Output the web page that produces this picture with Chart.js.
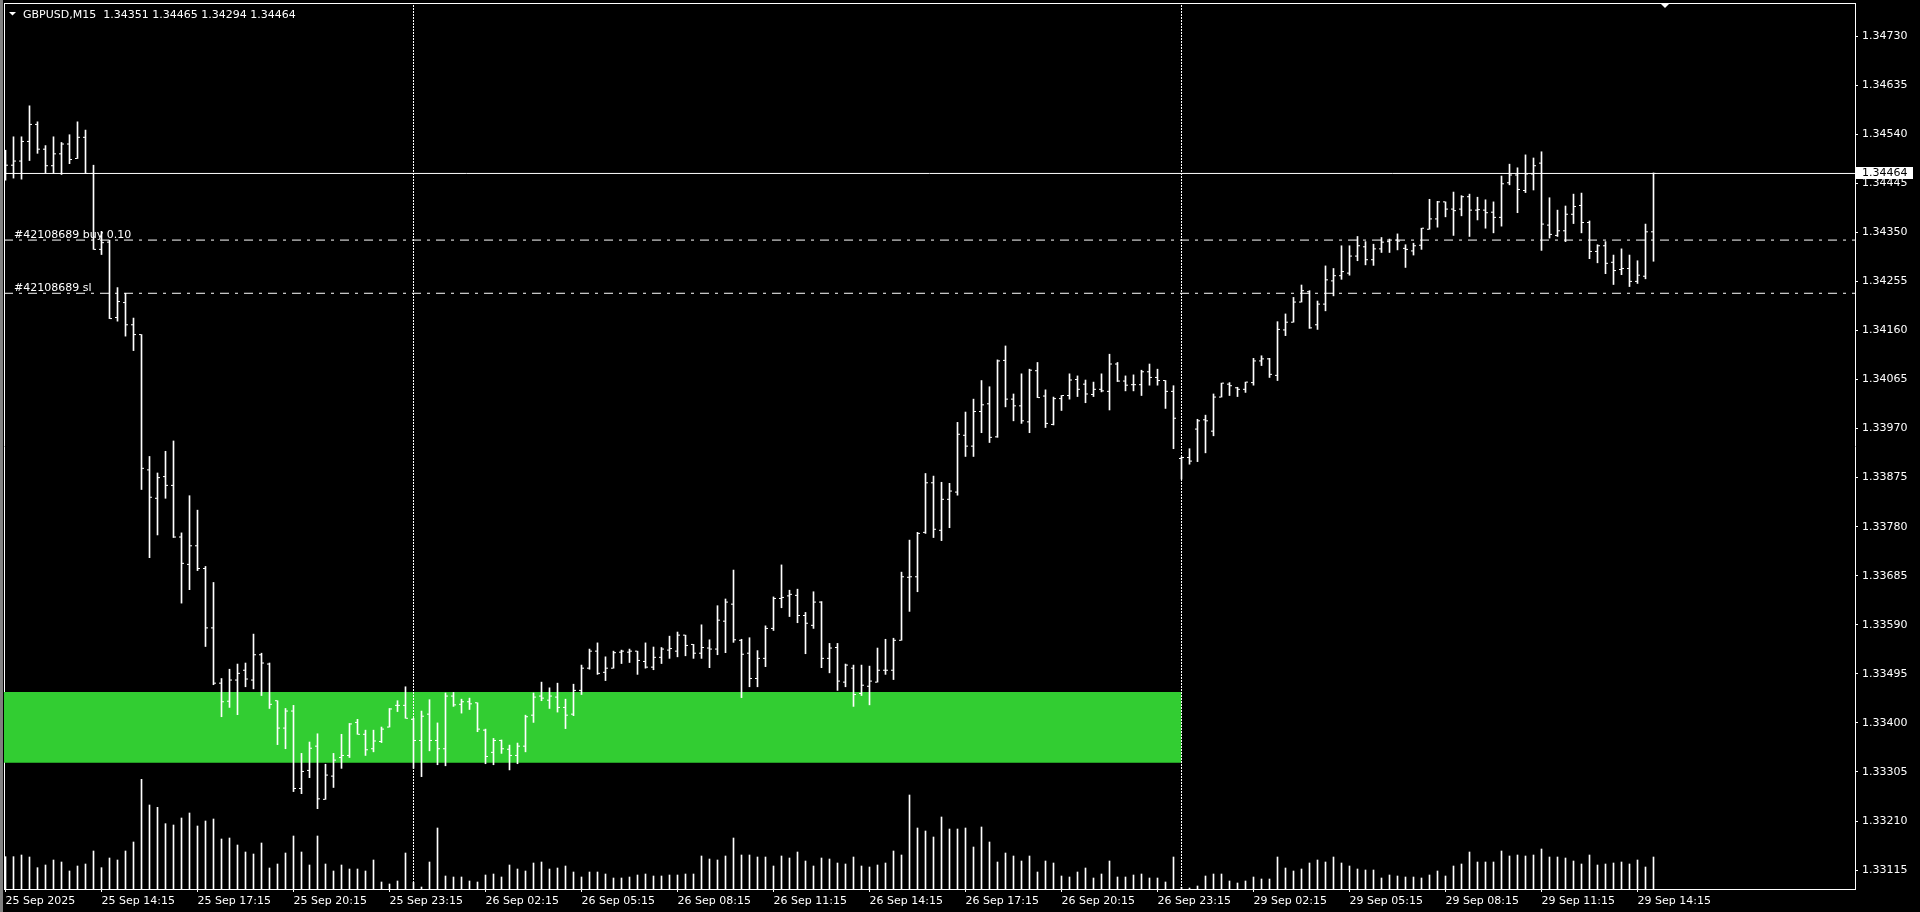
<!DOCTYPE html>
<html>
<head>
<meta charset="utf-8">
<title>GBPUSD,M15</title>
<script src="https://cdn.jsdelivr.net/npm/chart.js@4.4.1/dist/chart.umd.min.js"></script>
<style>
  html, body { margin: 0; padding: 0; background: #000; overflow: hidden; }
  #wrap { position: relative; width: 1920px; height: 912px; }
  #edge { position: absolute; left: 0; top: 0; width: 3px; height: 912px; background: #808080; }
  canvas { display: block; }
</style>
</head>
<body>
<div id="wrap">
  <canvas id="chart" width="1920" height="912"></canvas>
  <div id="edge"></div>
</div>
<script>
// GBPUSD M15, bars from 25 Sep 11:15 to 29 Sep 14:45
const symbolTitle = 'GBPUSD,M15';

const timeLabels = ['25 Sep 2025', '25 Sep 14:15', '25 Sep 17:15', '25 Sep 20:15', '25 Sep 23:15',
  '26 Sep 02:15', '26 Sep 05:15', '26 Sep 08:15', '26 Sep 11:15', '26 Sep 14:15', '26 Sep 17:15',
  '26 Sep 20:15', '26 Sep 23:15', '29 Sep 02:15', '29 Sep 05:15', '29 Sep 08:15', '29 Sep 11:15',
  '29 Sep 14:15'];
const labelEvery = 12; // one time label every 12 bars (3 hours)

const openPrices = [
  1.34464, 1.34480, 1.34488, 1.34526, 1.34559, 1.34511, 1.34479, 1.34502, 1.34521, 1.34493,
  1.34534, 1.34464, 1.34317, 1.34331, 1.34185, 1.34214, 1.34171, 1.34152, 1.33890, 1.33835,
  1.33877, 1.33860, 1.33760, 1.33707, 1.33743, 1.33699, 1.33584, 1.33477, 1.33442, 1.33483,
  1.33502, 1.33483, 1.33532, 1.33514, 1.33443, 1.33390, 1.33423, 1.33273, 1.33308, 1.33355,
  1.33252, 1.33297, 1.33333, 1.33337, 1.33401, 1.33378, 1.33350, 1.33364, 1.33392, 1.33434,
  1.33434, 1.33407, 1.33366, 1.33417, 1.33366, 1.33350, 1.33452, 1.33436, 1.33441, 1.33439,
  1.33386, 1.33343, 1.33366, 1.33349, 1.33337, 1.33355, 1.33415, 1.33452, 1.33444, 1.33450,
  1.33430, 1.33417, 1.33463, 1.33506, 1.33539, 1.33498, 1.33506, 1.33537, 1.33537, 1.33539,
  1.33519, 1.33508, 1.33527, 1.33541, 1.33539, 1.33570, 1.33552, 1.33535, 1.33545, 1.33543,
  1.33597, 1.33630, 1.33560, 1.33535, 1.33486, 1.33525, 1.33583, 1.33641, 1.33646, 1.33647,
  1.33608, 1.33589, 1.33634, 1.33525, 1.33546, 1.33479, 1.33506, 1.33457, 1.33471, 1.33479,
  1.33502, 1.33502, 1.33560, 1.33682, 1.33683, 1.33769, 1.33865, 1.33773, 1.33833, 1.33847,
  1.33957, 1.33936, 1.34003, 1.34018, 1.33954, 1.34102, 1.34027, 1.34014, 1.33983, 1.34082,
  1.34033, 1.33978, 1.34028, 1.34034, 1.34065, 1.34056, 1.34036, 1.34046, 1.34042, 1.34095,
  1.34062, 1.34055, 1.34055, 1.34080, 1.34069, 1.34063, 1.34042, 1.33912, 1.33914, 1.33969,
  1.33987, 1.33965, 1.34031, 1.34056, 1.34049, 1.34046, 1.34059, 1.34101, 1.34105, 1.34073,
  1.34161, 1.34176, 1.34215, 1.34235, 1.34171, 1.34211, 1.34256, 1.34266, 1.34271, 1.34304,
  1.34322, 1.34297, 1.34318, 1.34332, 1.34335, 1.34319, 1.34314, 1.34325, 1.34356, 1.34376,
  1.34409, 1.34395, 1.34395, 1.34419, 1.34393, 1.34393, 1.34389, 1.34379, 1.34446, 1.34461,
  1.34431, 1.34463, 1.34484, 1.34364, 1.34344, 1.34353, 1.34385, 1.34402, 1.34369, 1.34313,
  1.34324, 1.34292, 1.34278, 1.34280, 1.34255, 1.34265, 1.34351
];
const highPrices = [
  1.34509, 1.34535, 1.34535, 1.34595, 1.34564, 1.34518, 1.34535, 1.34524, 1.34539, 1.34564,
  1.34548, 1.34480, 1.34352, 1.34335, 1.34243, 1.34232, 1.34184, 1.34152, 1.33916, 1.33884,
  1.33926, 1.33946, 1.33768, 1.33840, 1.33812, 1.33703, 1.33672, 1.33486, 1.33504, 1.33514,
  1.33516, 1.33572, 1.33535, 1.33516, 1.33443, 1.33428, 1.33434, 1.33341, 1.33363, 1.33379,
  1.33320, 1.33341, 1.33378, 1.33399, 1.33407, 1.33386, 1.33386, 1.33392, 1.33428, 1.33443,
  1.33470, 1.33409, 1.33423, 1.33445, 1.33400, 1.33458, 1.33459, 1.33446, 1.33448, 1.33439,
  1.33388, 1.33370, 1.33367, 1.33357, 1.33361, 1.33415, 1.33458, 1.33479, 1.33468, 1.33477,
  1.33446, 1.33475, 1.33512, 1.33543, 1.33555, 1.33528, 1.33539, 1.33541, 1.33543, 1.33539,
  1.33555, 1.33547, 1.33546, 1.33568, 1.33576, 1.33570, 1.33552, 1.33590, 1.33561, 1.33627,
  1.33640, 1.33696, 1.33562, 1.33565, 1.33540, 1.33588, 1.33644, 1.33706, 1.33657, 1.33659,
  1.33614, 1.33654, 1.33635, 1.33554, 1.33554, 1.33514, 1.33512, 1.33512, 1.33510, 1.33545,
  1.33562, 1.33564, 1.33692, 1.33754, 1.33769, 1.33883, 1.33878, 1.33866, 1.33864, 1.33982,
  1.34002, 1.34027, 1.34063, 1.34051, 1.34103, 1.34130, 1.34037, 1.34076, 1.34085, 1.34098,
  1.34045, 1.34031, 1.34034, 1.34076, 1.34072, 1.34064, 1.34060, 1.34076, 1.34114, 1.34098,
  1.34072, 1.34074, 1.34083, 1.34095, 1.34085, 1.34063, 1.34053, 1.33915, 1.33931, 1.33988,
  1.33996, 1.34037, 1.34058, 1.34059, 1.34050, 1.34060, 1.34106, 1.34111, 1.34106, 1.34177,
  1.34192, 1.34224, 1.34248, 1.34237, 1.34217, 1.34285, 1.34280, 1.34324, 1.34324, 1.34342,
  1.34332, 1.34327, 1.34340, 1.34337, 1.34347, 1.34326, 1.34329, 1.34358, 1.34414, 1.34410,
  1.34409, 1.34428, 1.34421, 1.34424, 1.34418, 1.34413, 1.34409, 1.34459, 1.34482, 1.34475,
  1.34500, 1.34494, 1.34506, 1.34417, 1.34393, 1.34401, 1.34424, 1.34426, 1.34372, 1.34326,
  1.34332, 1.34306, 1.34318, 1.34306, 1.34295, 1.34366, 1.34465
];
const lowPrices = [
  1.34451, 1.34455, 1.34453, 1.34489, 1.34503, 1.34465, 1.34465, 1.34462, 1.34483, 1.34493,
  1.34464, 1.34317, 1.34307, 1.34183, 1.34178, 1.34149, 1.34121, 1.33852, 1.33720, 1.33764,
  1.33835, 1.33759, 1.33632, 1.33658, 1.33695, 1.33548, 1.33474, 1.33412, 1.33430, 1.33416,
  1.33470, 1.33466, 1.33453, 1.33428, 1.33358, 1.33350, 1.33267, 1.33263, 1.33294, 1.33234,
  1.33252, 1.33275, 1.33312, 1.33333, 1.33378, 1.33337, 1.33344, 1.33362, 1.33392, 1.33422,
  1.33409, 1.33312, 1.33296, 1.33346, 1.33319, 1.33317, 1.33432, 1.33419, 1.33426, 1.33383,
  1.33321, 1.33319, 1.33341, 1.33309, 1.33321, 1.33344, 1.33401, 1.33443, 1.33428, 1.33421,
  1.33389, 1.33414, 1.33455, 1.33504, 1.33494, 1.33482, 1.33506, 1.33515, 1.33517, 1.33494,
  1.33506, 1.33503, 1.33515, 1.33525, 1.33528, 1.33530, 1.33525, 1.33525, 1.33507, 1.33532,
  1.33536, 1.33556, 1.33449, 1.33470, 1.33470, 1.33509, 1.33579, 1.33623, 1.33606, 1.33594,
  1.33534, 1.33583, 1.33507, 1.33497, 1.33463, 1.33470, 1.33432, 1.33453, 1.33435, 1.33479,
  1.33494, 1.33484, 1.33560, 1.33616, 1.33654, 1.33767, 1.33759, 1.33753, 1.33778, 1.33841,
  1.33916, 1.33916, 1.33962, 1.33943, 1.33953, 1.34012, 1.33985, 1.33980, 1.33962, 1.34030,
  1.33972, 1.33977, 1.34005, 1.34027, 1.34032, 1.34020, 1.34032, 1.34041, 1.34006, 1.34061,
  1.34043, 1.34043, 1.34034, 1.34054, 1.34054, 1.34009, 1.33931, 1.33872, 1.33901, 1.33906,
  1.33923, 1.33956, 1.34031, 1.34034, 1.34032, 1.34040, 1.34054, 1.34092, 1.34069, 1.34063,
  1.34150, 1.34176, 1.34215, 1.34164, 1.34162, 1.34198, 1.34227, 1.34259, 1.34267, 1.34295,
  1.34287, 1.34286, 1.34311, 1.34311, 1.34316, 1.34282, 1.34306, 1.34317, 1.34356, 1.34360,
  1.34380, 1.34344, 1.34382, 1.34342, 1.34374, 1.34358, 1.34349, 1.34362, 1.34442, 1.34388,
  1.34427, 1.34432, 1.34315, 1.34339, 1.34342, 1.34332, 1.34367, 1.34349, 1.34299, 1.34291,
  1.34270, 1.34249, 1.34268, 1.34245, 1.34251, 1.34260, 1.34294
];
const closePrices = [
  1.34480, 1.34488, 1.34526, 1.34559, 1.34511, 1.34479, 1.34502, 1.34521, 1.34491, 1.34534,
  1.34464, 1.34317, 1.34330, 1.34183, 1.34216, 1.34171, 1.34152, 1.33893, 1.33837, 1.33875,
  1.33860, 1.33760, 1.33709, 1.33743, 1.33699, 1.33584, 1.33477, 1.33441, 1.33483, 1.33496,
  1.33485, 1.33532, 1.33516, 1.33436, 1.33390, 1.33423, 1.33273, 1.33306, 1.33351, 1.33253,
  1.33299, 1.33328, 1.33337, 1.33398, 1.33378, 1.33348, 1.33365, 1.33388, 1.33427, 1.33434,
  1.33409, 1.33366, 1.33413, 1.33366, 1.33350, 1.33452, 1.33435, 1.33441, 1.33437, 1.33388,
  1.33335, 1.33366, 1.33350, 1.33337, 1.33355, 1.33412, 1.33450, 1.33448, 1.33452, 1.33430,
  1.33415, 1.33463, 1.33506, 1.33539, 1.33496, 1.33506, 1.33536, 1.33539, 1.33539, 1.33521,
  1.33508, 1.33527, 1.33543, 1.33544, 1.33570, 1.33550, 1.33535, 1.33546, 1.33543, 1.33599,
  1.33634, 1.33561, 1.33533, 1.33486, 1.33525, 1.33583, 1.33641, 1.33643, 1.33649, 1.33608,
  1.33593, 1.33634, 1.33525, 1.33545, 1.33481, 1.33512, 1.33455, 1.33473, 1.33481, 1.33502,
  1.33502, 1.33560, 1.33683, 1.33683, 1.33767, 1.33865, 1.33775, 1.33833, 1.33849, 1.33959,
  1.33936, 1.34003, 1.34016, 1.33953, 1.34101, 1.34027, 1.34014, 1.33985, 1.34083, 1.34030,
  1.33980, 1.34028, 1.34034, 1.34064, 1.34046, 1.34037, 1.34046, 1.34043, 1.34095, 1.34062,
  1.34054, 1.34055, 1.34080, 1.34069, 1.34063, 1.34042, 1.33990, 1.33914, 1.33907, 1.33985,
  1.33985, 1.34031, 1.34058, 1.34053, 1.34046, 1.34060, 1.34101, 1.34105, 1.34075, 1.34162,
  1.34176, 1.34215, 1.34237, 1.34165, 1.34211, 1.34258, 1.34266, 1.34274, 1.34304, 1.34324,
  1.34297, 1.34318, 1.34331, 1.34335, 1.34333, 1.34317, 1.34324, 1.34358, 1.34376, 1.34409,
  1.34395, 1.34392, 1.34419, 1.34393, 1.34394, 1.34388, 1.34379, 1.34444, 1.34461, 1.34433,
  1.34463, 1.34479, 1.34366, 1.34346, 1.34353, 1.34385, 1.34400, 1.34369, 1.34313, 1.34324,
  1.34290, 1.34276, 1.34280, 1.34255, 1.34267, 1.34351, 1.34464
];
const tickVolumes = [
  970, 970, 1020, 960, 640, 720, 870, 810, 540, 690,
  750, 1140, 640, 930, 870, 1140, 1410, 3290, 2520, 2450,
  1960, 1920, 2130, 2280, 1890, 2040, 2100, 1500, 1530, 1320,
  1110, 1050, 1380, 630, 750, 1080, 1590, 1110, 720, 1590,
  750, 540, 720, 600, 600, 540, 870, 210, 150, 240,
  1080, 200, 60, 810, 1830, 390, 360, 360, 240, 210,
  420, 450, 360, 720, 600, 540, 780, 810, 600, 630,
  690, 510, 360, 510, 510, 450, 330, 330, 360, 420,
  450, 390, 390, 420, 420, 450, 450, 990, 900, 870,
  990, 1530, 1020, 1020, 960, 960, 690, 990, 930, 1110,
  840, 690, 930, 900, 780, 750, 960, 690, 660, 720,
  780, 1140, 1020, 2820, 1830, 1740, 1560, 2160, 1800, 1800,
  1830, 1260, 1860, 1410, 810, 1080, 990, 840, 990, 510,
  840, 780, 390, 360, 510, 630, 330, 450, 840, 360,
  360, 420, 450, 330, 330, 210, 960, 50, 30, 90,
  390, 450, 450, 240, 180, 240, 360, 300, 300, 960,
  630, 540, 600, 780, 870, 810, 960, 780, 690, 600,
  570, 570, 330, 420, 390, 360, 360, 330, 420, 540,
  390, 690, 750, 1110, 810, 810, 810, 1140, 990, 1020,
  990, 1020, 1200, 960, 960, 930, 840, 750, 1020, 720,
  750, 780, 810, 750, 870, 660, 960
];

const priceTicks = [1.34730, 1.34635, 1.34540, 1.34445, 1.34350, 1.34255, 1.34160, 1.34065, 1.33970,
  1.33875, 1.33780, 1.33685, 1.33590, 1.33495, 1.33400, 1.33305, 1.33210, 1.33115];

const bidPrice = 1.34464;
const orderTicket = '#42108689';
const orderLots = 0.10;
const orderOpenPrice = 1.34335;
const orderStopLoss = 1.34232;

const daySeparatorBars = [51, 147]; // 26 Sep 00:00, 29 Sep 00:00

const zoneFromBar = -5;
const zoneToBar = 147;
const zoneHigh = 1.33460;
const zoneLow = 1.33323;

// visible window of the chart
const PX_PER_BAR = 8;
const PLOT_W = 1851;
const PLOT_H = 886;
const X_MIN = -1.5 / PX_PER_BAR;
const X_MAX = X_MIN + PLOT_W / PX_PER_BAR;
const Y_MIN = 1.330784;
const Y_MAX = 1.347941;
const VOL_PER_PX = 30;

const FONT = "'DejaVu Sans', 'Liberation Sans', sans-serif";
Chart.defaults.font.family = FONT;
Chart.defaults.font.size = 11;
Chart.defaults.color = '#ffffff';

const bars = openPrices.map((_, i) => i);
const tickShift = 1.5 / PX_PER_BAR;

function levelLine(label, price, dash) {
  return {
    type: 'line', label: label, order: 3,
    data: [{x: X_MIN, y: price}, {x: X_MAX, y: price}],
    borderColor: '#ffffff', borderWidth: 1, borderDash: dash,
    pointRadius: 0, xAxisID: 'x', yAxisID: 'y'
  };
}

// fixed axis sizes, no automatic label padding
function fixSize(w, h) {
  return s => {
    if (w !== null) s.width = w;
    if (h !== null) s.height = h;
    s.paddingTop = 0; s.paddingBottom = 0; s.paddingLeft = 0; s.paddingRight = 0;
  };
}

const datasets = [
  {
    type: 'scatter', label: 'open', order: 1,
    data: bars.map(i => ({x: i - tickShift, y: openPrices[i]})),
    pointStyle: 'line', pointRadius: 1, pointBorderWidth: 1,
    pointBorderColor: '#ffffff', pointBackgroundColor: '#ffffff',
    showLine: false, xAxisID: 'x', yAxisID: 'y'
  },
  {
    type: 'scatter', label: 'close', order: 1,
    data: bars.map(i => ({x: i + tickShift, y: closePrices[i]})),
    pointStyle: 'line', pointRadius: 1, pointBorderWidth: 1,
    pointBorderColor: '#ffffff', pointBackgroundColor: '#ffffff',
    showLine: false, xAxisID: 'x', yAxisID: 'y'
  },
  {
    type: 'bar', label: 'range', order: 2,
    data: bars.map(i => ({x: i, y: [lowPrices[i], highPrices[i]]})),
    backgroundColor: '#ffffff', borderWidth: 0,
    barThickness: 1, grouped: false, xAxisID: 'x', yAxisID: 'y'
  },
  levelLine('bid', bidPrice, []),
  levelLine('buy', orderOpenPrice, [9, 6, 3, 6]),
  levelLine('sl', orderStopLoss, [9, 6, 3, 6]),
  ...daySeparatorBars.map(b => ({
    type: 'line', label: 'separator', order: 4,
    data: [{x: b, y: Y_MIN}, {x: b, y: Y_MAX}],
    borderColor: '#ffffff', borderWidth: 1, borderDash: [2, 1],
    pointRadius: 0, xAxisID: 'x', yAxisID: 'y'
  })),
  {
    type: 'bar', label: 'volume', order: 5,
    data: bars.map(i => ({x: i, y: tickVolumes[i]})),
    backgroundColor: '#ffffff', borderWidth: 0,
    barThickness: 1, grouped: false, xAxisID: 'x', yAxisID: 'yVol'
  },
  {
    type: 'line', label: 'zone', order: 6,
    data: [{x: zoneFromBar, y: zoneHigh}, {x: zoneToBar, y: zoneHigh}],
    fill: {value: zoneLow}, backgroundColor: '#32cd32',
    borderColor: 'rgba(0,0,0,0)', borderWidth: 1, pointRadius: 0,
    xAxisID: 'x', yAxisID: 'y'
  }
];

// texts MT4 draws over the chart
const terminalText = {
  id: 'terminalText',
  afterDraw(chart) {
    const {ctx, chartArea, scales} = chart;
    const last = openPrices.length - 1;
    ctx.save();
    ctx.font = '11px ' + FONT;
    ctx.fillStyle = '#ffffff';

    ctx.beginPath();
    ctx.moveTo(9, 12); ctx.lineTo(16, 12); ctx.lineTo(12.5, 15.5);
    ctx.closePath(); ctx.fill();
    ctx.textBaseline = 'alphabetic';
    const ohlc = [openPrices[last], highPrices[last], lowPrices[last], closePrices[last]];
    ctx.fillText(symbolTitle + '  ' + ohlc.map(v => v.toFixed(5)).join(' '), 23, 17.5);

    ctx.fillText(orderTicket + ' buy ' + orderLots.toFixed(2), chartArea.left + 10,
      scales.y.getPixelForValue(orderOpenPrice) - 2.5);
    ctx.fillText(orderTicket + ' sl', chartArea.left + 10,
      scales.y.getPixelForValue(orderStopLoss) - 2.5);

    // bid label on the price scale
    const yb = Math.round(scales.y.getPixelForValue(bidPrice));
    ctx.fillRect(chartArea.right + 1, yb - 6, 57, 12);
    ctx.fillStyle = '#000000';
    ctx.textBaseline = 'middle';
    ctx.fillText(bidPrice.toFixed(5), chartArea.right + 7, yb + 0.5);

    // chart shift marker
    ctx.fillStyle = '#ffffff';
    ctx.beginPath();
    ctx.moveTo(1660, chartArea.top); ctx.lineTo(1670, chartArea.top); ctx.lineTo(1665, chartArea.top + 5);
    ctx.closePath(); ctx.fill();
    ctx.restore();
  }
};

const chart = new Chart(document.getElementById('chart').getContext('2d'), {
  type: 'bar',
  data: {datasets: datasets},
  plugins: [terminalText],
  options: {
    responsive: false,
    animation: false,
    devicePixelRatio: 1,
    events: [],
    layout: {autoPadding: false, padding: {left: 4, top: 3, right: 0, bottom: 0}},
    plugins: {legend: {display: false}, tooltip: {enabled: false}},
    scales: {
      x: {
        type: 'linear', axis: 'x', position: 'bottom', min: X_MIN, max: X_MAX, offset: false,
        afterBuildTicks: s => { s.ticks = timeLabels.map((_, k) => ({value: k * labelEvery})); },
        afterFit: fixSize(null, 23),
        ticks: {
          autoSkip: false, maxRotation: 0, minRotation: 0, align: 'start', padding: 3,
          color: '#ffffff', font: {family: FONT, size: 11},
          callback: v => timeLabels[Math.round(v / labelEvery)]
        },
        grid: {drawOnChartArea: false, drawTicks: true, tickLength: 3, color: '#ffffff', offset: false},
        border: {display: true, color: '#ffffff', width: 1}
      },
      xTop: {
        type: 'linear', axis: 'x', position: 'top', min: X_MIN, max: X_MAX, offset: false,
        afterFit: fixSize(null, 0),
        ticks: {display: false},
        grid: {display: false, drawTicks: false},
        border: {display: true, color: '#ffffff', width: 1}
      },
      y: {
        type: 'linear', axis: 'y', position: 'right', min: Y_MIN, max: Y_MAX,
        afterBuildTicks: s => { s.ticks = priceTicks.map(v => ({value: v})); },
        afterFit: fixSize(65, null),
        ticks: {
          autoSkip: false, padding: 4, color: '#ffffff', font: {family: FONT, size: 11},
          callback: v => v.toFixed(5)
        },
        grid: {drawOnChartArea: false, drawTicks: true, tickLength: 3, color: '#ffffff'},
        border: {display: true, color: '#ffffff', width: 1}
      },
      yLeft: {
        type: 'linear', axis: 'y', position: 'left', min: Y_MIN, max: Y_MAX,
        afterFit: fixSize(0, null),
        ticks: {display: false},
        grid: {display: false, drawTicks: false},
        border: {display: true, color: '#ffffff', width: 1}
      },
      yVol: {
        type: 'linear', axis: 'y', display: false, min: 0, max: PLOT_H * VOL_PER_PX
      }
    }
  }
});
</script>
</body>
</html>
